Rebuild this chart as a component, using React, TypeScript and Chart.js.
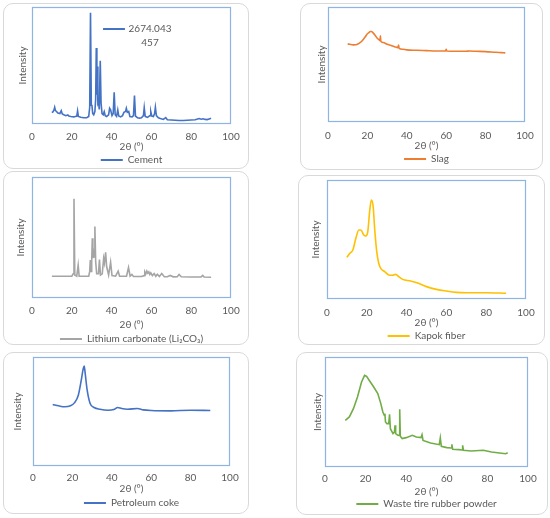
import React, { useEffect, useRef } from "react";
import { Chart, registerables } from "chart.js";

Chart.register(...registerables);

// ---------- shared labels ----------
const xAxisTitle = "2θ (°)";
const yAxisTitle = "Intensity";
const xMin = 0;
const xMax = 100;
const xStep = 20;
const cementNoteLines = ["2674.043", "457"];

// ---------- Cement ----------
const cementX = [10, 10.5, 11, 11.4, 11.8, 12.3, 13, 14, 14.7, 15.2, 16, 17, 18, 18.5, 19.5, 21, 22.5, 22.9, 23.3, 24.5, 26, 27.5, 28.5, 29.0, 29.4, 29.8, 30.1, 30.5, 31, 31.6, 32.0, 32.3, 32.6, 32.8, 33.1, 33.4, 33.8, 34.3, 34.7, 35.2, 35.8, 36.3, 36.8, 37.5, 38.5, 39.0, 39.5, 40.2, 40.8, 41.3, 41.8, 42.5, 43.1, 43.6, 44.5, 45.5, 46.2, 47.0, 47.4, 47.9, 48.6, 49.2, 50.3, 51.0, 51.5, 52.0, 53, 54, 55, 56.0, 56.4, 56.9, 58, 59.3, 59.7, 60.2, 61, 61.6, 62.0, 62.5, 63.5, 64.5, 66, 67.2, 68, 70, 72, 74, 76, 78, 80, 82, 84, 85, 86, 87, 88, 89, 90];
const cementY = [270, 290, 330, 400, 320, 300, 260, 250, 320, 240, 220, 200, 216, 190, 180, 170, 190, 312, 180, 160, 150, 150, 180, 400, 2660, 450, 456, 250, 220, 300, 600, 1816, 700, 1376, 500, 536, 350, 1512, 500, 250, 220, 296, 200, 180, 220, 376, 340, 200, 250, 760, 220, 180, 336, 190, 170, 200, 280, 300, 376, 280, 300, 180, 170, 200, 680, 190, 150, 140, 150, 200, 392, 180, 160, 200, 296, 190, 180, 250, 400, 200, 150, 130, 110, 152, 100, 95, 90, 85, 85, 90, 95, 100, 130, 115, 125, 110, 105, 120, 135];

// ---------- Slag ----------
const slagX = [10, 13, 15, 17, 18, 19, 20, 21, 21.5, 22, 23, 24, 25, 26, 26.4, 26.6, 26.8, 28, 30, 32, 34, 35.5, 35.8, 36.1, 38, 40, 45, 50, 55, 59.7, 60, 60.3, 65, 70, 72, 75, 80, 85, 88, 90];
const slagY = [679, 671, 676, 700, 720, 743, 767, 781, 787, 787, 773, 752, 729, 714, 708, 749, 703, 691, 676, 665, 653, 647, 670, 641, 633, 627, 624, 621, 618, 618, 633, 618, 615, 615, 617, 615, 612, 606, 603, 601];

// ---------- Lithium carbonate ----------
const lithiumX = [10, 15, 20, 20.7, 21.1, 21.5, 22.5, 23.2, 23.7, 26, 28.5, 29.0, 29.3, 29.7, 30.0, 30.3, 30.6, 30.9, 31.2, 31.6, 32.0, 32.5, 33.4, 33.9, 34.4, 35.3, 36.0, 36.4, 37.0, 37.5, 38.5, 39.5, 40.2, 42, 43.3, 44, 47.5, 48.5, 49.3, 50.2, 51, 55, 56.3, 56.7, 57.2, 57.7, 58.2, 58.7, 59.2, 59.7, 60.5, 61.4, 62.2, 63, 64, 65.2, 66.5, 68, 69.4, 71, 73, 73.9, 75, 80, 85, 85.8, 86.5, 90];
const lithiumY = [180, 180, 180, 200, 820, 190, 180, 271, 180, 180, 180, 220, 313, 220, 300, 493, 330, 380, 340, 590, 300, 200, 200, 318, 190, 200, 327, 290, 377, 260, 190, 296, 185, 180, 222, 180, 180, 252, 180, 194, 178, 178, 185, 216, 200, 222, 205, 216, 195, 208, 185, 202, 180, 197, 178, 202, 176, 176, 186, 175, 176, 194, 175, 174, 174, 186, 173, 172];

// ---------- Kapok fiber ----------
const kapokX = [10, 11.5, 13, 14.5, 16, 17, 18.5, 19.5, 20.5, 21.5, 22.3, 23.2, 24, 25, 26, 27, 29, 31, 33, 34.5, 36, 38, 42, 46, 50, 55, 60, 65, 70, 80, 90];
const kapokY = [350, 384, 412, 510, 580, 580, 538, 529, 566, 748, 832, 776, 580, 398, 300, 258, 230, 202, 199, 207, 188, 165, 151, 132, 104, 81, 67, 56, 53, 53, 48];

// ---------- Petroleum coke ----------
const cokeX = [10, 13, 16, 19, 21, 23, 24.5, 25.5, 26, 26.5, 27.5, 29, 31, 34, 38, 41, 43, 45, 48, 53, 56, 60, 70, 80, 90];
const cokeY = [564, 552, 543, 552, 579, 649, 787, 893, 918, 848, 695, 573, 537, 521, 512, 518, 537, 527, 521, 527, 515, 509, 506, 512, 509];

// ---------- Waste tire rubber powder ----------
const tireX = [10, 12, 14, 16, 18, 19.5, 20.5, 22, 24, 26, 27.5, 28.5, 29.2, 29.5, 29.8, 30.5, 31.4, 31.8, 32.2, 33.5, 34.2, 34.5, 34.8, 36, 36.6, 36.8, 37.1, 38, 40, 43, 45, 47.3, 47.8, 48.3, 52, 56.3, 56.8, 57.3, 60, 62.2, 62.5, 62.9, 66, 67.5, 67.8, 68.2, 72, 78, 82, 86, 89, 90];
const tireY = [424, 455, 530, 636, 773, 833, 824, 782, 727, 667, 576, 500, 470, 485, 409, 394, 394, 479, 348, 303, 318, 379, 303, 288, 290, 524, 279, 258, 267, 288, 273, 267, 294, 242, 218, 203, 264, 188, 176, 173, 206, 161, 158, 155, 197, 152, 145, 152, 136, 127, 121, 130];

// ---------- series names & colours ----------
const seriesNames = ["Cement", "Slag", "Lithium carbonate (Li₂CO₃)", "Kapok fiber", "Petroleum coke", "Waste tire rubber powder"];
const seriesColors = ["#4472C4", "#ED7D31", "#A5A5A5", "#FFC000", "#4472C4", "#70AD47"];

const FONT = "Lato, 'Noto Sans', sans-serif";
const TEXT = "#595959";
const FS = 10;
const LH = 12;

type PanelSpec = {
  name: string;
  color: string;
  xs: number[];
  ys: number[];
  yMax: number;
  smooth: boolean;
  card: [number, number, number, number];
  plot: [number, number, number, number];
  tickY: number;
  titleY: number;
  legendY: number;
  yTitleX: number;
  note?: string[];
};

const panels: PanelSpec[] = [
  { name: seriesNames[0], color: seriesColors[0], xs: cementX, ys: cementY, yMax: 2800, smooth: false,
    card: [3, 3, 246, 166], plot: [32, 7, 231, 124], tickY: 137, titleY: 147, legendY: 160, yTitleX: 23, note: cementNoteLines },
  { name: seriesNames[1], color: seriesColors[1], xs: slagX, ys: slagY, yMax: 1000, smooth: true,
    card: [300, 3, 243, 167], plot: [328, 7, 525, 122], tickY: 136, titleY: 146, legendY: 159, yTitleX: 322 },
  { name: seriesNames[2], color: seriesColors[2], xs: lithiumX, ys: lithiumY, yMax: 1000, smooth: false,
    card: [3, 171, 246, 174], plot: [32, 177, 231, 298], tickY: 311, titleY: 325, legendY: 339, yTitleX: 21 },
  { name: seriesNames[3], color: seriesColors[3], xs: kapokX, ys: kapokY, yMax: 1000, smooth: true,
    card: [298, 175, 247, 170], plot: [327, 180, 526, 299], tickY: 313, titleY: 323, legendY: 336, yTitleX: 316 },
  { name: seriesNames[4], color: seriesColors[4], xs: cokeX, ys: cokeY, yMax: 1000, smooth: true,
    card: [3, 352, 246, 162], plot: [33, 357, 230, 466], tickY: 478, titleY: 489, legendY: 503, yTitleX: 18 },
  { name: seriesNames[5], color: seriesColors[5], xs: tireX, ys: tireY, yMax: 1000, smooth: false,
    card: [296, 352, 252, 163], plot: [325, 357, 528, 467], tickY: 479, titleY: 492, legendY: 504, yTitleX: 318 },
];

const plotBorder = {
  id: "plotBorder",
  afterDraw(chart: any) {
    const { ctx, chartArea } = chart;
    ctx.save();
    ctx.strokeStyle = "#8DB4E2";
    ctx.lineWidth = 1.2;
    ctx.strokeRect(
      Math.round(chartArea.left) + 0.5,
      Math.round(chartArea.top) + 0.5,
      Math.round(chartArea.right - chartArea.left) - 1,
      Math.round(chartArea.bottom - chartArea.top) - 1
    );
    ctx.restore();
  },
};

function makeNotePlugin(lines: string[], color: string) {
  return {
    id: "noteLegend",
    afterDatasetsDraw(chart: any) {
      const { ctx, chartArea } = chart;
      const w = chartArea.right - chartArea.left;
      const h = chartArea.bottom - chartArea.top;
      const y1 = chartArea.top + 0.188 * h;
      const y2 = chartArea.top + 0.308 * h;
      ctx.save();
      ctx.strokeStyle = color;
      ctx.lineWidth = 2;
      ctx.beginPath();
      ctx.moveTo(chartArea.left + 0.357 * w, y1);
      ctx.lineTo(chartArea.left + 0.467 * w, y1);
      ctx.stroke();
      ctx.fillStyle = TEXT;
      ctx.font = `${FS}px ${FONT}`;
      ctx.textAlign = "center";
      ctx.textBaseline = "middle";
      const cx = chartArea.left + 0.593 * w;
      ctx.fillText(lines[0], cx, y1);
      ctx.fillText(lines[1], cx, y2);
      ctx.restore();
    },
  };
}

function Panel({ spec }: { spec: PanelSpec }) {
  const ref = useRef<HTMLCanvasElement | null>(null);
  const [cx, cy, cw, ch] = spec.card;
  const [pl, pt, pr, pb] = spec.plot;
  const canvasH = ch + 30;

  useEffect(() => {
    if (!ref.current) return;
    const padTop = pt - cy;
    const padRight = cx + cw - pr;
    const yW = pl - cx;
    const yTitlePad = Math.max(0, spec.yTitleX - cx - LH / 2);
    const xH = spec.titleY - pb + LH / 2;
    const tickPad = Math.max(0, spec.tickY - pb - LH / 2);
    const legendTop = pb + xH - cy;
    const legPad = Math.max(0, spec.legendY - cy - legendTop - FS / 2);
    const legendH = FS + legPad + 10;
    const padBottom = Math.max(0, canvasH - legendTop - legendH);

    const plugins: any[] = [plotBorder];
    if (spec.note) plugins.push(makeNotePlugin(spec.note, spec.color));

    const chart = new Chart(ref.current, {
      type: "line",
      data: {
        datasets: [
          {
            label: spec.name,
            data: spec.xs.map((x, i) => ({ x, y: spec.ys[i] })),
            borderColor: spec.color,
            backgroundColor: spec.color,
            borderWidth: 1.6,
            pointRadius: 0,
            tension: spec.smooth ? 0.4 : 0,
            cubicInterpolationMode: spec.smooth ? "monotone" : "default",
            fill: false,
          } as any,
        ],
      },
      options: {
        responsive: false,
        animation: false,
        devicePixelRatio: 1,
        layout: { padding: { left: 0, top: padTop, right: padRight, bottom: padBottom } },
        scales: {
          x: {
            type: "linear",
            min: xMin,
            max: xMax,
            ticks: { stepSize: xStep, color: TEXT, font: { size: FS, family: FONT }, padding: tickPad, maxRotation: 0 },
            grid: { display: false, drawTicks: false },
            border: { display: false },
            title: { display: true, text: xAxisTitle, color: TEXT, font: { size: FS, family: FONT }, padding: { top: 0, bottom: 0 } },
            afterFit: (s: any) => { s.height = xH; },
          },
          y: {
            min: 0,
            max: spec.yMax,
            ticks: { display: false },
            grid: { display: false, drawTicks: false },
            border: { display: false },
            title: { display: true, text: yAxisTitle, color: TEXT, font: { size: FS, family: FONT }, padding: { top: yTitlePad, bottom: 0 } },
            afterFit: (s: any) => { s.width = yW; },
          },
        },
        plugins: {
          legend: {
            display: true,
            position: "bottom",
            fullSize: false,
            labels: {
              boxWidth: 22,
              boxHeight: 2,
              padding: legPad,
              color: TEXT,
              font: { size: FS, family: FONT },
              generateLabels: (c: any) =>
                Chart.defaults.plugins.legend.labels.generateLabels(c).map((l: any) => ({ ...l, lineWidth: 0, fillStyle: spec.color })),
            },
          },
          tooltip: { enabled: false },
        },
      } as any,
      plugins,
    });
    return () => chart.destroy();
  }, []);

  return (
    <>
      <div
        style={{
          position: "absolute",
          left: cx,
          top: cy,
          width: cw,
          height: ch,
          boxSizing: "border-box",
          border: "1px solid #D9D9D9",
          borderRadius: 10,
          background: "#fff",
        }}
      />
      <canvas
        ref={ref}
        width={cw}
        height={canvasH}
        style={{ position: "absolute", left: cx, top: cy, width: cw, height: canvasH }}
      />
    </>
  );
}

export default function App() {
  return (
    <div style={{ position: "absolute", left: 0, top: 0, width: 550, height: 518, background: "#fff", overflow: "hidden" }}>
      {panels.map((p) => (
        <div key={p.name}>
          <Panel spec={p} />
        </div>
      ))}
    </div>
  );
}
